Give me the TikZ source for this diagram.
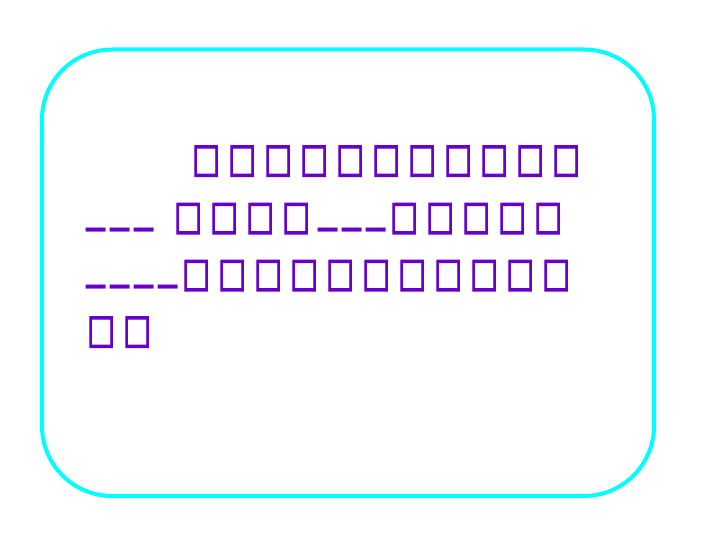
\documentclass[tikz,border=0pt]{standalone}
\usepackage{fontspec}
\usepackage{graphicx}
\usetikzlibrary{positioning}
\newfontfamily\glyphfont{DejaVu Sans}
\newfontfamily\tofufont{DejaVu Sans}[FakeBold=3]
\definecolor{framecyan}{RGB}{0,255,255}
\definecolor{textpurple}{RGB}{102,0,204}
\newcommand\tofu{\makebox[36pt][l]{\tofufont\scalebox{0.92}[1.25]{□}}}
\newcommand\blank{\makebox[24pt][l]{\raisebox{10.5pt}{\scalebox{1.2}[1.8]{\_}}}}
\tikzset{
  card/.style={
    draw=framecyan,
    line width=4pt,
    rounded corners=70pt,
    minimum width=612pt,
    minimum height=446.5pt,
    inner sep=0pt
  },
  textline/.style={
    anchor=base west,
    inner sep=0pt,
    text height=31pt,
    text depth=4pt,
    text=textpurple,
    font=\glyphfont\fontsize{32}{32}\selectfont
  }
}
\begin{document}
\begin{tikzpicture}[x=1pt,y=-1pt]
\useasboundingbox (0,0) rectangle (720,540);
\node[card] (frame) at (348,272.75) {};

\node[textline] (lineA) at (192,171.5)
  {\tofu\tofu\tofu\tofu\tofu\tofu\tofu\tofu\tofu\tofu\tofu};
\node[textline] (lineB) at (86,229)
  {\blank\blank\blank\hspace{16pt}\tofu\tofu\tofu\tofu\blank\blank\blank\tofu\tofu\tofu\tofu\tofu};
\node[textline] (lineC) at (86,286)
  {\blank\blank\blank\blank\tofu\tofu\tofu\tofu\tofu\tofu\tofu\tofu\tofu\tofu\tofu};
\node[textline] (lineD) at (87,342.5)
  {\tofu\tofu};
\end{tikzpicture}
\end{document}
